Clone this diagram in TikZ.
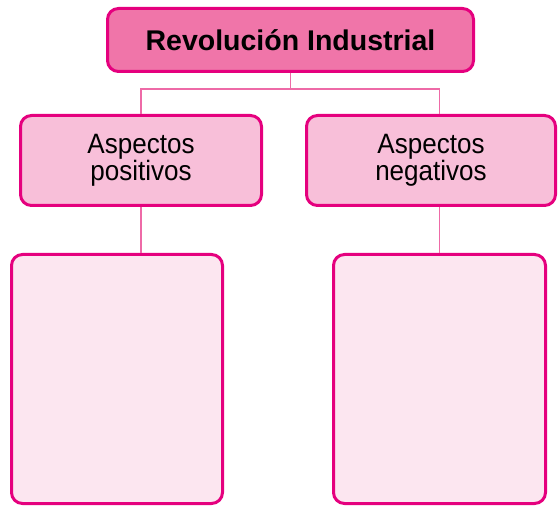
\documentclass[tikz,border=0pt]{standalone}
\usepackage{fontspec}
\setmainfont{Liberation Sans}
\newfontfamily\narrowfont[FakeStretch=0.93]{Liberation Sans}
\usepackage{xcolor}
\usepackage{tikz}
\usetikzlibrary{positioning}

\definecolor{rimpink}{HTML}{E5007E}
\definecolor{titlepink}{HTML}{F075A9}
\definecolor{midpink}{HTML}{F8BFD9}
\definecolor{palepink}{HTML}{FCE6F0}
\definecolor{linkpink}{HTML}{EE6AA7}

\begin{document}
\begin{tikzpicture}[
    x=1pt, y=1pt,
    card/.style={draw=rimpink, line width=3pt, rounded corners=11pt, inner sep=0pt,
                 align=center},
    title/.style={card, fill=titlepink, minimum width=366pt, minimum height=63pt,
                  font=\fontsize{28.5}{30}\selectfont\bfseries},
    aspect/.style={card, fill=midpink, minimum height=90pt,
                   font=\narrowfont\fontsize{28}{27}\selectfont},
    answer/.style={card, fill=palepink, minimum width=211pt, minimum height=249pt},
    link/.style={linkpink, line width=1.5pt}
]
    \useasboundingbox (0,0) rectangle (559,506);

    \node[title] (rev) at (290.5,466) {Revolución Industrial};
    \node[aspect, minimum width=241pt] (pos) at (141,345.5) {Aspectos\\positivos};
    \node[aspect, minimum width=249pt] (neg) at (431,345.5) {Aspectos\\negativos};
    \node[answer] (posbox) at (117,127) {};
    \node[answer, minimum width=212pt] (negbox) at (439.5,127) {};

    \coordinate (split) at (290.5,417);

    \draw[link] (rev.south) -- (split);
    \draw[link] (split) -| (pos.north);
    \draw[link] (split) -| (negbox.north |- neg.north);
    \draw[link] (pos.south) -- (pos.south |- posbox.north);
    \draw[link] (negbox.north |- neg.south) -- (negbox.north);
\end{tikzpicture}
\end{document}
